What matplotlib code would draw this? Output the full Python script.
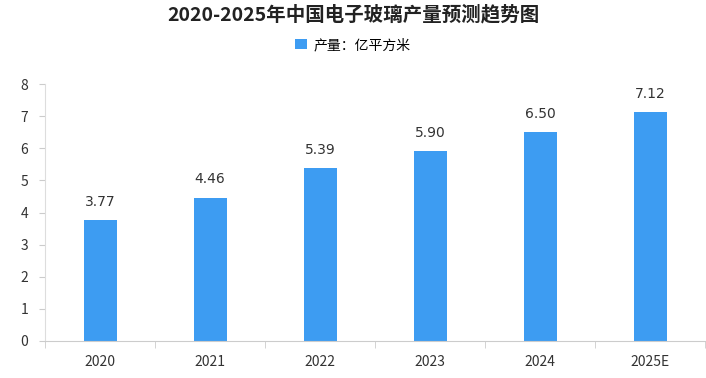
import matplotlib.pyplot as plt
import numpy as np

plt.rcParams['font.family'] = ['Noto Sans CJK SC', 'DejaVu Sans']

years = ["2020", "2021", "2022", "2023", "2024", "2025E"]
output = [3.77, 4.46, 5.39, 5.90, 6.50, 7.12]

fig = plt.figure(figsize=(7.06, 3.78), dpi=100)
ax = fig.add_axes([45 / 706, 1 - 341 / 378, 660 / 706, 257 / 378])

x = np.arange(len(years))
bars = ax.bar(x, output, width=0.3, color="#3d9cf2", label="产量：亿平方米")

for xi, v in zip(x, output):
    ax.text(xi, v + 0.35, f"{v:.2f}", ha="center", va="bottom", fontsize=10,
            color="#333333", family="DejaVu Sans")

ax.set_xlim(-0.5, len(years) - 0.5)
ax.set_ylim(0, 8)
ax.set_yticks(range(0, 9))
ax.set_xticks(x)
ax.set_xticklabels(years)
ax.set_xticks(np.arange(-0.5, len(years), 1), minor=True)
ax.tick_params(axis="x", which="major", length=0, pad=10, labelsize=10, labelcolor="#333333")
ax.tick_params(axis="x", which="minor", length=5, color="#cccccc")
ax.tick_params(axis="y", length=4, color="#cccccc", labelsize=10, labelcolor="#333333", pad=8)

for s in ["top", "right"]:
    ax.spines[s].set_visible(False)
ax.spines["left"].set_color("#dddddd")
ax.spines["bottom"].set_color("#cccccc")

fig.text(0.5, 1 - 15 / 378, "2020-2025年中国电子玻璃产量预测趋势图", ha="center", va="center",
         fontsize=14, fontweight="bold", color="#222222")
fig.legend(handles=[bars], loc="center", bbox_to_anchor=(0.5, 1 - 45 / 378), frameon=False,
           fontsize=10, handlelength=0.8, handleheight=0.8, handletextpad=0.5)

fig.savefig("out.png", dpi=100)
